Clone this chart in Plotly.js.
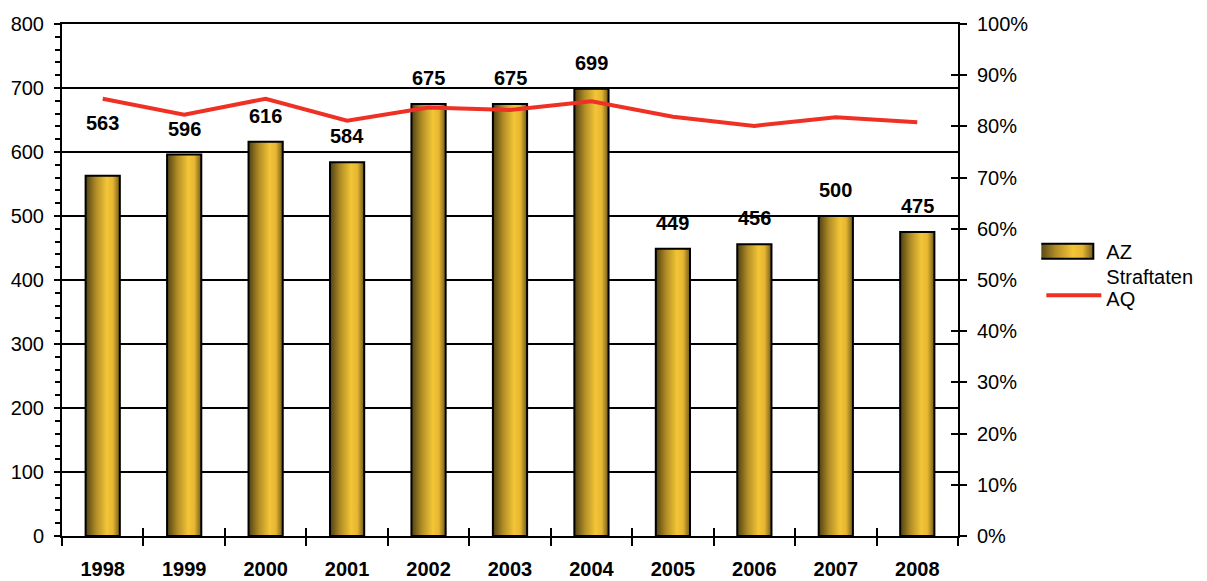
<!DOCTYPE html>
<html>
<head>
<meta charset="utf-8">
<script src="https://cdn.plot.ly/plotly-3.0.1.min.js"></script>
<style>
html,body{margin:0;padding:0;background:#fff;}
#chart{width:1207px;height:581px;}
</style>
</head>
<body>
<div id="chart"></div>
<script>
const years = ['1998','1999','2000','2001','2002','2003','2004','2005','2006','2007','2008'];
const azValues = [563, 596, 616, 584, 675, 675, 699, 449, 456, 500, 475];
const aqValues = [0.854, 0.823, 0.854, 0.811, 0.837, 0.832, 0.849, 0.819, 0.801, 0.818, 0.808];
const seriesNames = ['AZ', 'Straftaten<br>AQ'];

const FONT = 'Liberation Sans, Arial, sans-serif';

const barTrace = {
  type: 'bar', name: seriesNames[0], x: years, y: azValues,
  marker: {color: '#E8BA30', line: {color: '#000', width: 2}},
  hoverinfo: 'skip'
};
const lineTrace = {
  type: 'scatter', mode: 'lines', name: seriesNames[1], x: years, y: aqValues,
  yaxis: 'y2', line: {color: '#EE3124', width: 4}, hoverinfo: 'skip'
};

const annotations = years.map((yr, i) => ({
  x: i, y: azValues[i], xref: 'x', yref: 'y',
  text: '<b>' + azValues[i] + '</b>', showarrow: false,
  yanchor: 'bottom', yshift: i === 0 ? 40 : 13,
  font: {family: FONT, size: 20, color: '#000'}
}));

const layout = {
  width: 1207, height: 581,
  margin: {l: 62, r: 249, t: 24, b: 45, pad: 0, autoexpand: false},
  paper_bgcolor: '#fff', plot_bgcolor: '#fff',
  bargap: 0.58,
  showlegend: true,
  legend: {x: 1.093, y: 0.594, xanchor: 'left', yanchor: 'top', valign: 'bottom',
    font: {family: FONT, size: 20, color: '#000'}, itemwidth: 55, tracegroupgap: 2,
    bgcolor: 'rgba(0,0,0,0)'},
  font: {family: FONT, size: 20, color: '#000'},
  xaxis: {
    type: 'category', range: [-0.5, 10.5], showline: true, linecolor: '#000', linewidth: 2,
    mirror: true, ticks: 'outside', ticklen: 8, tickwidth: 2, tickcolor: '#000',
    tickson: 'boundaries', showgrid: false, zeroline: false, ticklabelstandoff: 14,
    tickfont: {family: FONT, size: 20, color: '#000', weight: 'bold'}
  },
  xaxis2: {
    overlaying: 'x', anchor: 'y', range: [-0.5, 10.5], tick0: 0.5, dtick: 1,
    ticks: 'inside', ticklen: 8, tickwidth: 2, tickcolor: '#000',
    showticklabels: false, showgrid: false, zeroline: false, showline: false
  },
  yaxis: {
    range: [0, 800], dtick: 100, showline: true, linecolor: '#000', linewidth: 2,
    ticks: 'outside', ticklen: 6, tickwidth: 2, tickcolor: '#000',
    showgrid: true, gridcolor: '#000', gridwidth: 2, zeroline: false,
    minor: {dtick: 20, ticks: 'outside', ticklen: 5, tickwidth: 2, tickcolor: '#000', showgrid: false},
    tickfont: {family: FONT, size: 20, color: '#000'}, ticklabelstandoff: 6
  },
  yaxis2: {
    overlaying: 'y', side: 'right', anchor: 'x', range: [0, 1], dtick: 0.1, tickformat: '.0%',
    showline: true, linecolor: '#000', linewidth: 2, ticks: 'outside', ticklen: 7, tickwidth: 2,
    tickcolor: '#000', showgrid: false, zeroline: false,
    tickfont: {family: FONT, size: 20, color: '#000'}, ticklabelstandoff: 6
  },
  yaxis3: {
    overlaying: 'y', side: 'right', anchor: 'x', range: [0, 1], dtick: 0.1,
    ticks: 'inside', ticklen: 7, tickwidth: 2, tickcolor: '#000',
    showticklabels: false, showgrid: false, zeroline: false, showline: false
  },
  annotations: annotations
};

const dummyX = {type: 'scatter', x: [0], y: [0], xaxis: 'x2', yaxis: 'y3', mode: 'markers',
  marker: {opacity: 0}, showlegend: false, hoverinfo: 'skip'};

Plotly.newPlot('chart', [barTrace, lineTrace, dummyX], layout, {staticPlot: true}).then(gd => {
  const svg = gd.querySelector('svg.main-svg');
  const NS = 'http://www.w3.org/2000/svg';
  let defs = svg.querySelector('defs');
  if (!defs) { defs = document.createElementNS(NS, 'defs'); svg.insertBefore(defs, svg.firstChild); }
  const grad = document.createElementNS(NS, 'linearGradient');
  grad.setAttribute('id', 'goldGrad');
  grad.setAttribute('x1', '0'); grad.setAttribute('x2', '1');
  grad.setAttribute('y1', '0'); grad.setAttribute('y2', '0');
  [['0', '#4f4114'], ['0.3', '#b08c26'], ['0.62', '#f3c537'], ['0.8', '#e6b631'], ['1', '#6e5a1c']].forEach(([o, c]) => {
    const s = document.createElementNS(NS, 'stop');
    s.setAttribute('offset', o); s.setAttribute('stop-color', c);
    grad.appendChild(s);
  });
  defs.appendChild(grad);
  const isGold = f => f && (f.indexOf('232, 186, 48') >= 0 || f.toLowerCase() === '#e8ba30');
  gd.querySelectorAll('.barlayer .point path').forEach(p => {
    if (isGold(p.style.fill)) p.style.fill = 'url(#goldGrad)';
  });
  gd.querySelectorAll('.legend .legendpoints path').forEach(p => {
    if (isGold(p.style.fill)) {
      p.setAttribute('d', 'M27,7.5H-27V-7.5H27Z');
      p.setAttribute('transform', 'translate(25,0)');
      p.style.fill = 'url(#goldGrad)';
    }
  });
  // tighten the two-line legend label like the original
  const items = gd.querySelectorAll('.legend .traces');
  if (items.length > 1) {
    const g = items[1];
    const m = /translate\(([-\d.]+),\s*([-\d.]+)\)/.exec(g.getAttribute('transform') || '');
    if (m) g.setAttribute('transform', 'translate(' + m[1] + ',' + (parseFloat(m[2]) - 11) + ')');
    const txt = g.querySelector('text.legendtext');
    if (txt) {
      const lines = txt.querySelectorAll('tspan.line');
      if (lines.length > 1) lines[1].setAttribute('dy', '1.1em');
      txt.setAttribute('transform', 'translate(0,7)');
    }
  }
});
</script>
</body>
</html>
